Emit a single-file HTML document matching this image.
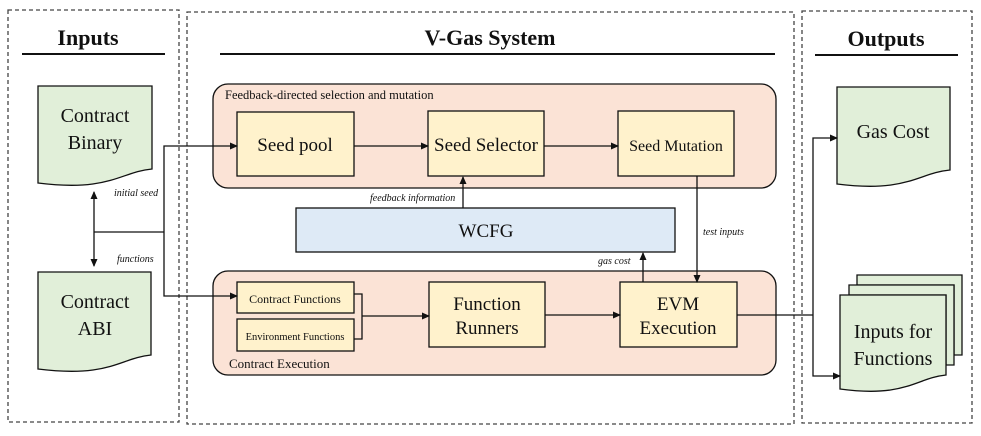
<!DOCTYPE html>
<html><head><meta charset="utf-8"><style>
html,body{margin:0;padding:0;background:#fff}
svg{display:block}
text{font-family:"Liberation Serif",serif;fill:#111}
</style></head><body>
<svg width="981" height="436" viewBox="0 0 981 436" xmlns="http://www.w3.org/2000/svg">
<defs>
<marker id="a" markerWidth="8" markerHeight="8" refX="7" refY="4" orient="auto" markerUnits="userSpaceOnUse">
<path d="M0,0.5 L8,4 L0,7.5 Z" fill="#111"/></marker>
<marker id="as" markerWidth="8" markerHeight="8" refX="1" refY="4" orient="auto" markerUnits="userSpaceOnUse">
<path d="M8,0.5 L0,4 L8,7.5 Z" fill="#111"/></marker>
</defs>
<g fill="none" stroke="#444" stroke-width="1.3" stroke-dasharray="4,3">
<rect x="8" y="10" width="171" height="412"/>
<rect x="187" y="12" width="607" height="412"/>
<rect x="802" y="11" width="170" height="412"/>
</g>
<text x="88" y="45" font-size="22" font-weight="bold" text-anchor="middle">Inputs</text>
<line x1="22" y1="54" x2="165" y2="54" stroke="#111" stroke-width="2"/>
<text x="490" y="45" font-size="22" font-weight="bold" text-anchor="middle">V-Gas System</text>
<line x1="220" y1="54" x2="775" y2="54" stroke="#111" stroke-width="2"/>
<text x="886" y="46" font-size="22" font-weight="bold" text-anchor="middle">Outputs</text>
<line x1="815" y1="55" x2="958" y2="55" stroke="#111" stroke-width="2"/>

<g fill="#e1efd9" stroke="#111" stroke-width="1.3">
<path d="M38,86 H152 V169 C120,172 110,192 38,183 Z"/>
<path d="M38,272 H151 V355 C120,358 110,378 38,369 Z"/>
<path d="M837,87 H950 V170 C918,173 908,193 837,184 Z"/>
<path d="M857,275 H962 V355 H954 V285 H857 Z"/>
<path d="M849,285 H954 V365 H946 V295 H849 Z"/>
<path d="M840,295 H946 V375 C916,378 906,398 840,389 Z"/>
</g>
<g font-size="20" text-anchor="middle">
<text x="95" y="122">Contract</text><text x="95" y="149">Binary</text>
<text x="95" y="308">Contract</text><text x="95" y="335">ABI</text>
<text x="893" y="138">Gas Cost</text>
<text x="893" y="338">Inputs for</text><text x="893" y="365">Functions</text>
</g>

<rect x="213" y="84" width="563" height="104" rx="15" fill="#fbe3d6" stroke="#111" stroke-width="1.3"/>
<rect x="213" y="271" width="563" height="104" rx="15" fill="#fbe3d6" stroke="#111" stroke-width="1.3"/>
<text x="225" y="99" font-size="12.5">Feedback-directed selection and mutation</text>
<text x="229" y="368" font-size="13">Contract Execution</text>

<g fill="#fff2cc" stroke="#111" stroke-width="1.3">
<rect x="237" y="112" width="117" height="64"/>
<rect x="428" y="111" width="116" height="65"/>
<rect x="618" y="111" width="116" height="65"/>
<rect x="237" y="282" width="117" height="31"/>
<rect x="237" y="319" width="117" height="32"/>
<rect x="429" y="282" width="116" height="65"/>
<rect x="620" y="282" width="117" height="65"/>
</g>
<rect x="296" y="208" width="379" height="44" fill="#deeaf6" stroke="#111" stroke-width="1.3"/>
<g text-anchor="middle">
<text x="295" y="151" font-size="19">Seed pool</text>
<text x="486" y="151" font-size="19">Seed Selector</text>
<text x="676" y="151" font-size="16">Seed Mutation</text>
<text x="295" y="303" font-size="12">Contract Functions</text>
<text x="295" y="340" font-size="10.5">Environment Functions</text>
<text x="487" y="310" font-size="19">Function</text><text x="487" y="334" font-size="19">Runners</text>
<text x="678" y="310" font-size="19">EVM</text><text x="678" y="334" font-size="19">Execution</text>
<text x="486" y="237" font-size="19">WCFG</text>
</g>
<g font-size="10" font-style="italic">
<text x="114" y="196">initial seed</text>
<text x="117" y="262">functions</text>
<text x="370" y="201">feedback information</text>
<text x="703" y="235">test inputs</text>
<text x="598" y="264">gas cost</text>
</g>

<g fill="none" stroke="#111" stroke-width="1.3">
<line x1="94" y1="192" x2="94" y2="266" marker-start="url(#as)" marker-end="url(#a)"/>
<polyline points="94,232 164,232"/>
<polyline points="237,146 164,146 164,296 237,296" marker-start="url(#as)" marker-end="url(#a)"/>
<line x1="354" y1="146" x2="428" y2="146" marker-end="url(#a)"/>
<line x1="544" y1="146" x2="618" y2="146" marker-end="url(#a)"/>
<line x1="463" y1="208" x2="463" y2="177" marker-end="url(#a)"/>
<line x1="697" y1="176" x2="697" y2="282" marker-end="url(#a)"/>
<line x1="643" y1="282" x2="643" y2="253" marker-end="url(#a)"/>
<polyline points="354,294 362,294 362,339 354,339"/>
<line x1="362" y1="316" x2="429" y2="316" marker-end="url(#a)"/>
<line x1="545" y1="315" x2="620" y2="315" marker-end="url(#a)"/>
<polyline points="737,315 813,315"/>
<polyline points="837,138 813,138 813,376 840,376" marker-start="url(#as)" marker-end="url(#a)"/>
</g>
</svg>
</body></html>
